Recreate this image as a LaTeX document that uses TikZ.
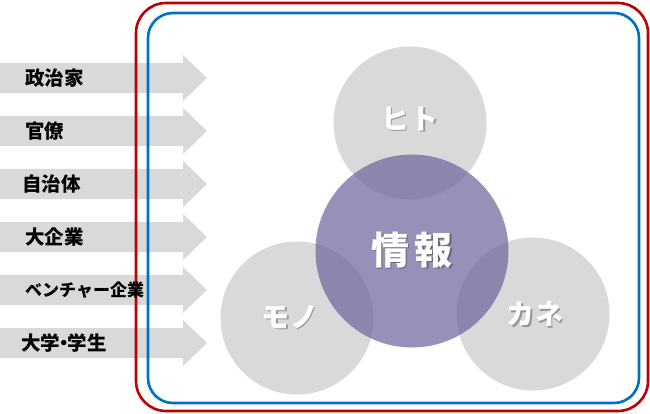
\documentclass[tikz,border=0pt]{standalone}
\usepackage{fontspec}
\newfontfamily\jp{Noto Sans CJK JP}
\usetikzlibrary{calc}
\definecolor{lgrey}{RGB}{217,217,217}
\definecolor{frred}{RGB}{192,0,0}
\definecolor{frblue}{RGB}{0,112,192}
\definecolor{info}{RGB}{108,99,156}
\begin{document}
\begin{tikzpicture}[x=1pt,y=-1pt,
  arrowshape/.style={fill=lgrey,draw=none},
  actor/.style={anchor=west,inner sep=0pt,font=\jp\bfseries\fontsize{19.5}{19.5}\selectfont,text=black},
  res/.style={circle,fill=lgrey,draw=none,minimum size=#1,inner sep=0pt},
  ctext/.style={inner sep=0pt,text=white,font=\jp\bfseries\fontsize{#1}{#1}\selectfont},
  cshadow/.style={inner sep=0pt,text=black,opacity=0.3,font=\jp\bfseries\fontsize{#1}{#1}\selectfont},
  frame/.style={line width=2.6pt,rounded corners=#1}]
\useasboundingbox[fill=white] (0,0) rectangle (650,414);
% arrows
\foreach \c in {78,131,184,237,290,343}{
  \fill[arrowshape] (0,\c-15) -- (183,\c-15) -- (183,\c-23) -- (207,\c) -- (183,\c+23) -- (183,\c+15) -- (0,\c+15) -- cycle;
}
% frames
\draw[frame=30pt,frred] (136,3) rectangle (648,411);
\draw[frame=25pt,frblue] (148,13) rectangle (639,403);
% labels
\node[actor] (a1) at (25,78) {政治家};
\node[actor] (a2) at (25,131) {官僚};
\node[actor] (a3) at (22,184) {自治体};
\node[actor] (a4) at (25,237) {大企業};
\node[actor,font=\jp\bfseries\fontsize{17}{17}\selectfont] (a5) at (25,290) {ベンチャー企業};
\node[actor] (a6) at (21,343) {大学\hspace{-6pt}・\hspace{-6pt}学生};
% circles
\node[res=153pt] (hito) at (410,123) {};
\node[res=153pt] (mono) at (297,318) {};
\node[res=153pt] (kane) at (533,314) {};
\node[circle,fill=info,fill opacity=0.7,minimum size=193pt,inner sep=0pt] (joho) at (412,251) {};
% circle texts
\node[cshadow=28] at (411.5,120.5) {ヒ\hspace{2pt}ト};
\node[ctext=28] (thito) at (410,119) {ヒ\hspace{2pt}ト};
\node[cshadow=38] at (413.5,251.5) {情\hspace{6pt}報};
\node[ctext=38] (tjoho) at (412,250) {情\hspace{6pt}報};
\node[cshadow=28] at (291.5,318.5) {モ\hspace{1pt}ノ};
\node[ctext=28] (tmono) at (290,317) {モ\hspace{1pt}ノ};
\node[cshadow=28] at (536.5,315.5) {カ\hspace{1pt}ネ};
\node[ctext=28] (tkane) at (535,314) {カ\hspace{1pt}ネ};
\end{tikzpicture}
\end{document}
